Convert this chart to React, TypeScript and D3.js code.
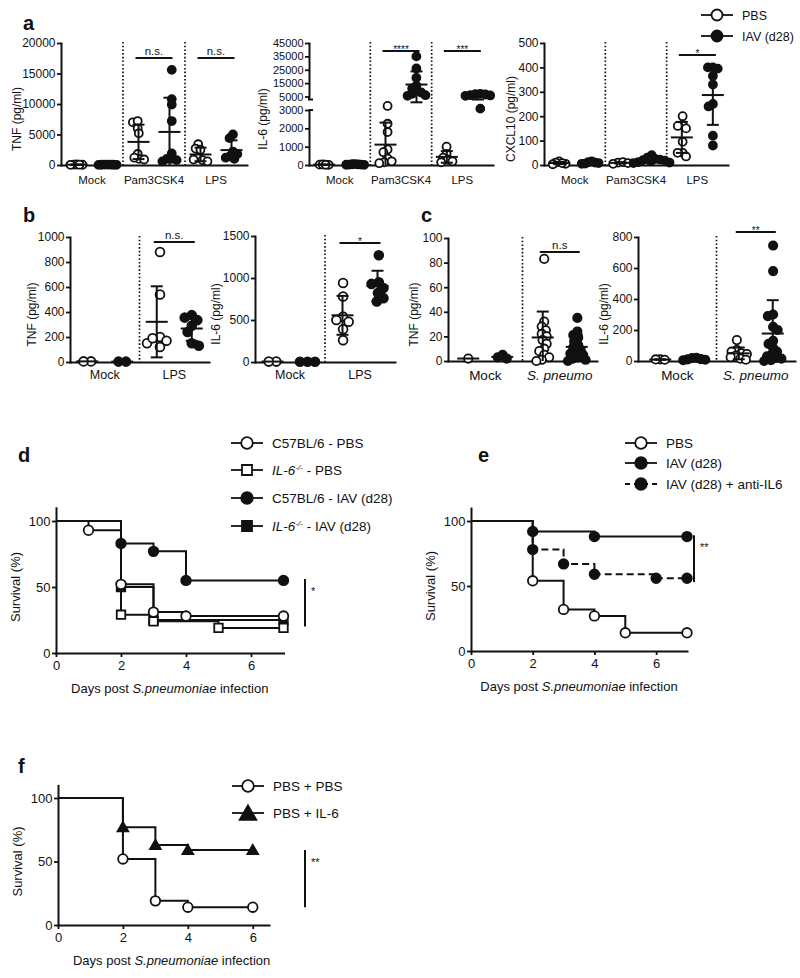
import React, { useEffect, useRef } from "react";
import * as d3 from "d3";

const FONT = "'Liberation Sans', Arial, Helvetica, sans-serif";
const INK = "#111";

// ---------------- Panel a ----------------
const aGroups = ["Mock", "Pam3CSK4", "LPS"];
const seriesKeys = ["PBS", "IAV"];
const legendLabels = ["PBS", "IAV (d28)"];

const aTnfTicks = [0, 5000, 10000, 15000, 20000];
const aTnfPBS = [[60, 40, 80, 50, 30], [7000, 7200, 6000, 5200, 1800, 1000, 900, 1200], [3400, 2700, 2500, 1200, 800, 600, 900]];
const aTnfIAV = [[50, 30, 60, 40, 20, 70, 45], [15600, 10800, 9900, 7200, 1900, 1000, 600, 800, 1000], [5000, 4400, 2200, 1800, 1500, 1200, 1000]];
const aTnfSig = [{ group: "Pam3CSK4", label: "n.s." }, { group: "LPS", label: "n.s." }];

const aIl6LowTicks = [0, 1000, 2000, 3000];
const aIl6HighTicks = [5000, 15000, 25000, 35000, 45000];
const aIl6PBS = [[20, 10, 30, 15], [3600, 2250, 1800, 850, 700, 350, 150, 100, 200], [1000, 600, 400, 300, 200, 150]];
const aIl6IAV = [[30, 20, 40, 10, 50, 25, 15], [35000, 26000, 19000, 13000, 11000, 9000, 7000, 6000, 5500, 8000], [7000, 6500, 6800, 5800, 6000, 5500, 3200]];
const aIl6Sig = [{ group: "Pam3CSK4", label: "****" }, { group: "LPS", label: "***" }];

const aCxclTicks = [0, 100, 200, 300, 400, 500];
const aCxclPBS = [[15, 5, 8, 10, 3], [10, 12, 8, 5], [200, 165, 160, 150, 95, 50, 35, 50]];
const aCxclIAV = [[10, 15, 5, 8, 12, 6], [40, 30, 25, 20, 15, 10, 12, 8, 18, 22], [400, 400, 395, 365, 250, 240, 120, 80, 330]];
const aCxclSig = [{ group: "LPS", label: "*" }];

// ---------------- Panel b ----------------
const bGroups = ["Mock", "LPS"];
const bTnfTicks = [0, 200, 400, 600, 800, 1000];
const bTnfPBS = [[5, 5], [880, 540, 200, 170, 150, 120, 190]];
const bTnfIAV = [[3, 3], [375, 355, 335, 290, 240, 150, 130]];
const bTnfSig = [{ group: "LPS", label: "n.s." }];
const bIl6Ticks = [0, 500, 1000, 1500];
const bIl6PBS = [[5, 5], [940, 780, 540, 500, 480, 390, 260]];
const bIl6IAV = [[3, 3, 3], [1270, 950, 930, 880, 820, 760, 720]];
const bIl6Sig = [{ group: "LPS", label: "*" }];

// ---------------- Panel c ----------------
const cGroups = ["Mock", "S. pneumo"];
const cTnfTicks = [0, 20, 40, 60, 80, 100];
const cTnfPBS = [[2], [83, 32, 28, 25, 22, 20, 17, 14, 10, 8, 5, 3, 1, 0]];
const cTnfIAV = [[2, 3, 5], [35, 24, 21, 19, 16, 13, 11, 9, 7, 5, 3, 2, 1, 0, 6]];
const cTnfSig = [{ group: "S. pneumo", label: "n.s" }];
const cIl6Ticks = [0, 200, 400, 600, 800];
const cIl6PBS = [[10, 8, 10], [135, 70, 60, 50, 45, 35, 25, 15, 8]];
const cIl6IAV = [[5, 10, 20, 12, 8, 18], [745, 580, 300, 290, 220, 200, 130, 110, 85, 60, 45, 30, 15, 0, 5, 20]];
const cIl6Sig = [{ group: "S. pneumo", label: "**" }];

// ---------------- Survival ----------------
const survTicksX = [0, 2, 4, 6];
const survTicksY = [0, 50, 100];

const dC57PbsDays = [0, 1, 2, 3, 4, 7];
const dC57PbsSurv = [100, 93, 52, 31, 28, 28];
const dIl6PbsDays = [0, 2, 3, 5, 7];
const dIl6PbsSurv = [100, 29, 24, 19, 19];
const dC57IavDays = [0, 2, 3, 4, 7];
const dC57IavSurv = [100, 83, 77, 55, 55];
const dIl6IavDays = [0, 2, 3, 7];
const dIl6IavSurv = [100, 50, 25, 25];
const dSig = { from: 56, to: 20, label: "*" };

const ePbsDays = [0, 2, 3, 4, 5, 7];
const ePbsSurv = [100, 54, 32, 27, 14, 14];
const eIavDays = [0, 2, 4, 7];
const eIavSurv = [100, 92, 88, 88];
const eAntiDays = [0, 2, 3, 4, 6, 7];
const eAntiSurv = [100, 78, 67, 59, 56, 56];
const eSig = { from: 89, to: 53, label: "**" };

const fPbsDays = [0, 2, 3, 4, 6];
const fPbsSurv = [100, 52, 19, 14, 14];
const fIl6Days = [0, 2, 3, 4, 6];
const fIl6Surv = [100, 77, 63, 59, 59];
const fSig = { from: 59, to: 14, label: "**" };

// ------------------------------------------------------------
function beeswarm(ys: number[], d: number): number[] {
  const n = ys.length;
  const order = d3.range(n).sort((a, b) => ys[a] - ys[b] || a - b);
  const xs: number[] = new Array(n).fill(0);
  const placed: [number, number][] = [];
  let flip = 1;
  for (const i of order) {
    const y = ys[i];
    const forb: [number, number][] = [];
    for (const [px, py] of placed) {
      const dy = Math.abs(py - y);
      if (dy < d) {
        const w = Math.sqrt(d * d - dy * dy);
        forb.push([px - w, px + w]);
      }
    }
    const cands = [0];
    for (const [a, b] of forb) cands.push(a, b);
    cands.sort((a, b) => Math.abs(a) - Math.abs(b) || (a - b) * flip);
    let best = 0;
    for (const c of cands) {
      if (forb.every(([a, b]) => c <= a + 1e-6 || c >= b - 1e-6)) {
        best = c;
        break;
      }
    }
    if (best !== 0) flip = -flip;
    xs[i] = best;
    placed.push([best, y]);
  }
  const mid = ((d3.min(xs) ?? 0) + (d3.max(xs) ?? 0)) / 2;
  return xs.map((v) => v - mid);
}

function styleAxis(sel: any, fs: number) {
  sel.attr("font-family", FONT).attr("font-size", fs);
  sel.selectAll("path.domain").attr("stroke", INK).attr("stroke-width", 2).attr("stroke-linecap", "square");
  sel.selectAll(".tick line").attr("stroke", INK).attr("stroke-width", 1.8);
  sel.selectAll("text").attr("fill", INK);
}

function drawScatter(svg: any, c: any) {
  const g = svg.append("g");
  const x = d3.scaleBand<string>().domain(c.groups).range([c.left, c.right]);
  const sub = d3.scalePoint<string>().domain(seriesKeys).range([-c.sep, c.sep]);
  const y = c.y;

  g.selectAll("line.sep")
    .data(c.groups.slice(1))
    .join("line")
    .attr("x1", (d: string) => x(d)!)
    .attr("x2", (d: string) => x(d)!)
    .attr("y1", c.top - 1)
    .attr("y2", c.bottom)
    .attr("stroke", INK)
    .attr("stroke-width", 1.7)
    .attr("stroke-dasharray", "1.6 2.1");

  c.drawY(g);

  const xa = g
    .append("g")
    .attr("transform", `translate(0,${c.bottom})`)
    .call(d3.axisBottom(x).tickSize(0).tickSizeOuter(0).tickPadding(c.xPad));
  styleAxis(xa, c.xFont);
  xa.selectAll("text").attr("font-style", (d: string) => (c.italic && c.italic.includes(d) ? "italic" : "normal"));

  const series = [
    { key: "PBS", data: c.pbs, fill: "#fff" },
    { key: "IAV", data: c.iav, fill: INK },
  ];
  const bars: any[] = [];
  series.forEach((s) => {
    s.data.forEach((vals: number[], gi: number) => {
      const cx = x(c.groups[gi])! + x.bandwidth() / 2 + sub(s.key)!;
      const ys = vals.map((v) => y(v));
      const offs = beeswarm(ys, gi === 0 && c.mockDist ? c.mockDist : c.minDist);
      g.append("g")
        .selectAll("circle")
        .data(vals)
        .join("circle")
        .attr("cx", (_: number, i: number) => cx + offs[i])
        .attr("cy", (_: number, i: number) => ys[i])
        .attr("r", c.r)
        .attr("fill", s.fill)
        .attr("stroke", INK)
        .attr("stroke-width", 1.8);
      const m = d3.mean(vals)!;
      const sd = vals.length > 1 ? d3.deviation(vals)! : 0;
      bars.push({ cx, m, lo: Math.max(0, m - sd), hi: m + sd, sd });
    });
  });
  const bg = g.append("g").attr("stroke", INK).attr("stroke-width", 2).attr("fill", "none");
  bars.forEach((b) => {
    bg.append("line").attr("x1", b.cx - 11).attr("x2", b.cx + 11).attr("y1", y(b.m)).attr("y2", y(b.m));
    if (b.sd > 0) {
      bg.append("line").attr("x1", b.cx).attr("x2", b.cx).attr("y1", y(b.lo)).attr("y2", y(b.hi));
      bg.append("line").attr("x1", b.cx - 6).attr("x2", b.cx + 6).attr("y1", y(b.hi)).attr("y2", y(b.hi));
      if (b.lo > 0) bg.append("line").attr("x1", b.cx - 6).attr("x2", b.cx + 6).attr("y1", y(b.lo)).attr("y2", y(b.lo));
    }
  });

  c.sig.forEach((s: any, k: number) => {
    const x1 = x(s.group)! + x.bandwidth() / 2 + sub("PBS")! - 3;
    const x2 = x(s.group)! + x.bandwidth() / 2 + sub("IAV")! + 3;
    const ly = c.sigY[k];
    g.append("line").attr("x1", x1).attr("x2", x2).attr("y1", ly).attr("y2", ly).attr("stroke", INK).attr("stroke-width", 2);
    const star = s.label.startsWith("*");
    g.append("text")
      .attr("x", (x1 + x2) / 2)
      .attr("y", star ? ly + 1.5 : ly - 3.5)
      .attr("text-anchor", "middle")
      .attr("font-family", FONT)
      .attr("font-size", star ? 10 : 11.5)
      .attr("fill", INK)
      .text(s.label);
  });

  g.append("text")
    .attr("transform", `translate(${c.yLabelX},${(c.top + c.bottom) / 2 + 15}) rotate(-90)`)
    .attr("dy", "0.35em")
    .attr("text-anchor", "middle")
    .attr("font-family", FONT)
    .attr("font-size", 12)
    .attr("fill", INK)
    .text(c.yLabel);
}

function linearY(g: any, scale: any, ticks: number[], left: number, fs: number) {
  const ya = g
    .append("g")
    .attr("transform", `translate(${left},0)`)
    .call(d3.axisLeft(scale).tickValues(ticks).tickSize(4).tickSizeOuter(0).tickPadding(1.5).tickFormat(d3.format("d")));
  styleAxis(ya, fs);
}

function symbolPath(shape: string, size: number) {
  const t = shape === "square" ? d3.symbolSquare : shape === "triangle" ? d3.symbolTriangle : d3.symbolCircle;
  return d3.symbol().type(t).size(size)()!;
}

function legendItem(g: any, x: number, y: number, it: any) {
  g.append("line")
    .attr("x1", x - 16)
    .attr("x2", x + 16)
    .attr("y1", y)
    .attr("y2", y)
    .attr("stroke", INK)
    .attr("stroke-width", 1.8)
    .attr("stroke-dasharray", it.dashed ? "5 4" : null);
  g.append("path")
    .attr("d", symbolPath(it.shape, it.size))
    .attr("transform", `translate(${x},${y + (it.shape === "triangle" ? 2 : 0)})`)
    .attr("fill", it.filled ? INK : "#fff")
    .attr("stroke", INK)
    .attr("stroke-width", 1.8);
  const t = g
    .append("text")
    .attr("x", x + 25)
    .attr("y", y)
    .attr("dy", "0.36em")
    .attr("font-family", FONT)
    .attr("font-size", it.fs)
    .attr("fill", INK);
  it.parts.forEach((p: any) => {
    const ts = t.append("tspan").text(p.t);
    if (p.italic) ts.attr("font-style", "italic");
    if (p.sup) ts.attr("dy", -5).attr("font-size", it.fs * 0.6);
    if (p.after) ts.attr("dy", 5);
  });
}

function drawSurvival(svg: any, c: any) {
  const g = svg.append("g");
  const x = d3.scaleLinear().domain([0, c.xMax]).range([c.x0, c.x1]);
  const y = d3.scaleLinear().domain([0, 110]).range([c.yBottom, c.yBottom - 1.1 * (c.yBottom - c.y100)]);

  const ya = g
    .append("g")
    .attr("transform", `translate(${c.x0},0)`)
    .call(d3.axisLeft(y).tickValues(survTicksY).tickSize(4).tickSizeOuter(0).tickPadding(1.5).tickFormat(d3.format("d")));
  styleAxis(ya, 13);
  const xa = g
    .append("g")
    .attr("transform", `translate(0,${c.yBottom})`)
    .call(d3.axisBottom(x).tickValues(survTicksX).tickSize(4).tickSizeOuter(0).tickPadding(4).tickFormat(d3.format("d")));
  styleAxis(xa, 13);

  const line = d3
    .line<[number, number]>()
    .x((d) => x(d[0]))
    .y((d) => y(d[1]))
    .curve(d3.curveStepAfter);

  c.curves.forEach((cv: any) => {
    const pts: [number, number][] = cv.days.map((d: number, i: number) => [d, cv.surv[i]]);
    g.append("path")
      .attr("d", line(pts))
      .attr("fill", "none")
      .attr("stroke", INK)
      .attr("stroke-width", 2)
      .attr("stroke-dasharray", cv.dashed ? "7 4" : null);
  });
  c.curves.forEach((cv: any) => {
    const pts: [number, number][] = cv.days.map((d: number, i: number) => [d, cv.surv[i]]).slice(1);
    g.append("g")
      .selectAll("path")
      .data(pts)
      .join("path")
      .attr("d", symbolPath(cv.shape, cv.size))
      .attr("transform", (d: [number, number]) => `translate(${x(d[0])},${y(d[1]) + (cv.shape === "triangle" ? 1 : 0)})`)
      .attr("fill", cv.filled ? INK : "#fff")
      .attr("stroke", INK)
      .attr("stroke-width", 1.8);
  });

  // significance bar
  g.append("line")
    .attr("x1", c.sigX)
    .attr("x2", c.sigX)
    .attr("y1", y(c.sig.from))
    .attr("y2", y(c.sig.to))
    .attr("stroke", INK)
    .attr("stroke-width", 2);
  g.append("text")
    .attr("x", c.sigX + 6)
    .attr("y", y(c.sig.from) + 16)
    .attr("font-family", FONT)
    .attr("font-size", 11)
    .attr("fill", INK)
    .text(c.sig.label);

  g.append("text")
    .attr("transform", `translate(${c.x0 - 41},${y(50)}) rotate(-90)`)
    .attr("dy", "0.35em")
    .attr("text-anchor", "middle")
    .attr("font-family", FONT)
    .attr("font-size", 13)
    .attr("fill", INK)
    .text("Survival (%)");

  const xl = g
    .append("text")
    .attr("x", (c.x0 + x(7)) / 2)
    .attr("y", c.yBottom + 39.5)
    .attr("text-anchor", "middle")
    .attr("font-family", FONT)
    .attr("font-size", 13)
    .attr("fill", INK);
  xl.append("tspan").text("Days post ");
  xl.append("tspan").attr("font-style", "italic").text("S.pneumoniae");
  xl.append("tspan").text(" infection");

  const lg = g.append("g");
  c.legend.forEach((it: any, i: number) => legendItem(lg, c.legendX, c.legendY[i], it));
}

function panelLetter(svg: any, x: number, y: number, t: string) {
  svg
    .append("text")
    .attr("x", x)
    .attr("y", y)
    .attr("font-family", FONT)
    .attr("font-weight", "bold")
    .attr("font-size", 20)
    .attr("fill", INK)
    .text(t);
}

function draw(svg: any) {
  svg.append("rect").attr("width", 800).attr("height", 978).attr("fill", "#fff");

  // ---- a ----
  panelLetter(svg, 23, 30, "a");
  const aTnfY = d3.scaleLinear().domain([0, 20000]).range([165, 43]);
  drawScatter(svg, {
    groups: aGroups, left: 61, right: 247, top: 43, bottom: 165, y: aTnfY,
    drawY: (g: any) => linearY(g, aTnfY, aTnfTicks, 61, 12),
    pbs: aTnfPBS, iav: aTnfIAV, sep: 15.5, minDist: 5, mockDist: 3, r: 4, xPad: 11, xFont: 11.5,
    sig: aTnfSig, sigY: [58, 58], yLabel: "TNF (pg/ml)", yLabelX: 17,
  });

  const il6Low = d3.scaleLinear().domain([0, 3000]).range([165, 110]);
  const il6Gap = d3.scaleLinear().domain([3000, 5000]).range([110, 96.5]);
  const il6High = d3.scaleLinear().domain([5000, 45000]).range([96.5, 43]);
  const il6Y = (v: number) => (v <= 3000 ? il6Low(v) : v <= 5000 ? il6Gap(v) : il6High(v));
  drawScatter(svg, {
    groups: aGroups, left: 309, right: 493, top: 43, bottom: 165, y: il6Y,
    drawY: (g: any) => {
      linearY(g, il6Low, aIl6LowTicks, 309, 11);
      linearY(g, il6High, aIl6HighTicks, 309, 11);
      g.append("path")
        .attr("d", `M309,96 V99.5 H313 M309,110 H313`)
        .attr("fill", "none")
        .attr("stroke", INK)
        .attr("stroke-width", 2);
    },
    pbs: aIl6PBS, iav: aIl6IAV, sep: 15.5, minDist: 5, mockDist: 3, r: 4, xPad: 11, xFont: 11.5,
    sig: aIl6Sig, sigY: [51, 51], yLabel: "IL-6 (pg/ml)", yLabelX: 263,
  });

  const cxclY = d3.scaleLinear().domain([0, 500]).range([165, 43]);
  drawScatter(svg, {
    groups: aGroups, left: 544, right: 728, top: 43, bottom: 165, y: cxclY,
    drawY: (g: any) => linearY(g, cxclY, aCxclTicks, 544, 12),
    pbs: aCxclPBS, iav: aCxclIAV, sep: 15.5, minDist: 5, mockDist: 3.5, r: 4, xPad: 11, xFont: 11.5,
    sig: aCxclSig, sigY: [55], yLabel: "CXCL10 (pg/ml)", yLabelX: 511,
  });

  const aLeg = svg.append("g");
  [false, true].forEach((filled, i) =>
    legendItem(aLeg, 717, 15 + i * 21, {
      shape: "circle", size: 95, filled, fs: 12.5, parts: [{ t: legendLabels[i] }],
    })
  );

  // ---- b ----
  panelLetter(svg, 23, 222, "b");
  const bTnfY = d3.scaleLinear().domain([0, 1000]).range([362, 237]);
  drawScatter(svg, {
    groups: bGroups, left: 70, right: 209, top: 237, bottom: 362, y: bTnfY,
    drawY: (g: any) => linearY(g, bTnfY, bTnfTicks, 70, 12),
    pbs: bTnfPBS, iav: bTnfIAV, sep: 17.5, minDist: 7.5, r: 4.4, xPad: 8.5, xFont: 12.5,
    sig: bTnfSig, sigY: [242], yLabel: "TNF (pg/ml)", yLabelX: 32,
  });
  const bIl6Y = d3.scaleLinear().domain([0, 1500]).range([362, 236]);
  drawScatter(svg, {
    groups: bGroups, left: 255, right: 395, top: 236, bottom: 362, y: bIl6Y,
    drawY: (g: any) => linearY(g, bIl6Y, bIl6Ticks, 255, 12),
    pbs: bIl6PBS, iav: bIl6IAV, sep: 17.5, minDist: 7.5, r: 4.4, xPad: 8.5, xFont: 12.5,
    sig: bIl6Sig, sigY: [243], yLabel: "IL-6 (pg/ml)", yLabelX: 216,
  });

  // ---- c ----
  panelLetter(svg, 421, 222, "c");
  const cTnfY = d3.scaleLinear().domain([0, 100]).range([361, 238]);
  drawScatter(svg, {
    groups: cGroups, left: 448, right: 597, top: 238, bottom: 361, y: cTnfY, italic: ["S. pneumo"],
    drawY: (g: any) => linearY(g, cTnfY, cTnfTicks, 448, 12),
    pbs: cTnfPBS, iav: cTnfIAV, sep: 17, minDist: 5.5, r: 4.2, xPad: 9, xFont: 13.5,
    sig: cTnfSig, sigY: [252], yLabel: "TNF (pg/ml)", yLabelX: 414,
  });
  const cIl6Y = d3.scaleLinear().domain([0, 800]).range([361, 237]);
  drawScatter(svg, {
    groups: cGroups, left: 638, right: 795, top: 237, bottom: 361, y: cIl6Y, italic: ["S. pneumo"],
    drawY: (g: any) => linearY(g, cIl6Y, cIl6Ticks, 638, 12),
    pbs: cIl6PBS, iav: cIl6IAV, sep: 17, minDist: 5.5, mockDist: 4.5, r: 4.2, xPad: 9, xFont: 13.5,
    sig: cIl6Sig, sigY: [232], yLabel: "IL-6 (pg/ml)", yLabelX: 604,
  });

  // ---- d ----
  panelLetter(svg, 18, 462, "d");
  const ko = [{ t: "IL-6", italic: true }, { t: "-/-", italic: true, sup: true }];
  drawSurvival(svg, {
    x0: 56, x1: 283.5, xMax: 7, yBottom: 653, y100: 521, sigX: 305, sig: dSig,
    curves: [
      { days: dIl6IavDays, surv: dIl6IavSurv, shape: "square", filled: true, size: 72 },
      { days: dC57IavDays, surv: dC57IavSurv, shape: "circle", filled: true, size: 72 },
      { days: dIl6PbsDays, surv: dIl6PbsSurv, shape: "square", filled: false, size: 72 },
      { days: dC57PbsDays, surv: dC57PbsSurv, shape: "circle", filled: false, size: 72 },
    ],
    legendX: 247, legendY: [443, 470, 498, 526],
    legend: [
      { shape: "circle", filled: false, size: 105, fs: 13.5, parts: [{ t: "C57BL/6 - PBS" }] },
      { shape: "square", filled: false, size: 100, fs: 13.5, parts: [...ko, { t: " - PBS", after: true }] },
      { shape: "circle", filled: true, size: 105, fs: 13.5, parts: [{ t: "C57BL/6 - IAV (d28)" }] },
      { shape: "square", filled: true, size: 100, fs: 13.5, parts: [...ko, { t: " - IAV (d28)", after: true }] },
    ],
  });

  // ---- e ----
  panelLetter(svg, 478, 462, "e");
  drawSurvival(svg, {
    x0: 471, x1: 687, xMax: 7, yBottom: 651, y100: 521, sigX: 694, sig: eSig,
    curves: [
      { days: eAntiDays, surv: eAntiSurv, shape: "circle", filled: true, dashed: true, size: 72 },
      { days: eIavDays, surv: eIavSurv, shape: "circle", filled: true, size: 72 },
      { days: ePbsDays, surv: ePbsSurv, shape: "circle", filled: false, size: 72 },
    ],
    legendX: 641, legendY: [443, 463, 484],
    legend: [
      { shape: "circle", filled: false, size: 105, fs: 13.5, parts: [{ t: "PBS" }] },
      { shape: "circle", filled: true, size: 105, fs: 13.5, parts: [{ t: "IAV (d28)" }] },
      { shape: "circle", filled: true, dashed: true, size: 105, fs: 13.5, parts: [{ t: "IAV (d28) + anti-IL6" }] },
    ],
  });

  // ---- f ----
  panelLetter(svg, 18, 773, "f");
  drawSurvival(svg, {
    x0: 58, x1: 269, xMax: 6.5, yBottom: 925, y100: 798, sigX: 305, sig: fSig,
    curves: [
      { days: fIl6Days, surv: fIl6Surv, shape: "triangle", filled: true, size: 50 },
      { days: fPbsDays, surv: fPbsSurv, shape: "circle", filled: false, size: 72 },
    ],
    legendX: 248, legendY: [786, 813],
    legend: [
      { shape: "circle", filled: false, size: 105, fs: 13.5, parts: [{ t: "PBS + PBS" }] },
      { shape: "triangle", filled: true, size: 120, fs: 13.5, parts: [{ t: "PBS + IL-6" }] },
    ],
  });
}

export default function App() {
  const ref = useRef<SVGSVGElement | null>(null);
  useEffect(() => {
    const svg = d3.select(ref.current);
    svg.selectAll("*").remove();
    draw(svg);
  }, []);
  return (
    <svg
      ref={ref}
      width={800}
      height={978}
      viewBox="0 0 800 978"
      style={{ position: "absolute", left: 0, top: 0, background: "#fff" }}
    />
  );
}
